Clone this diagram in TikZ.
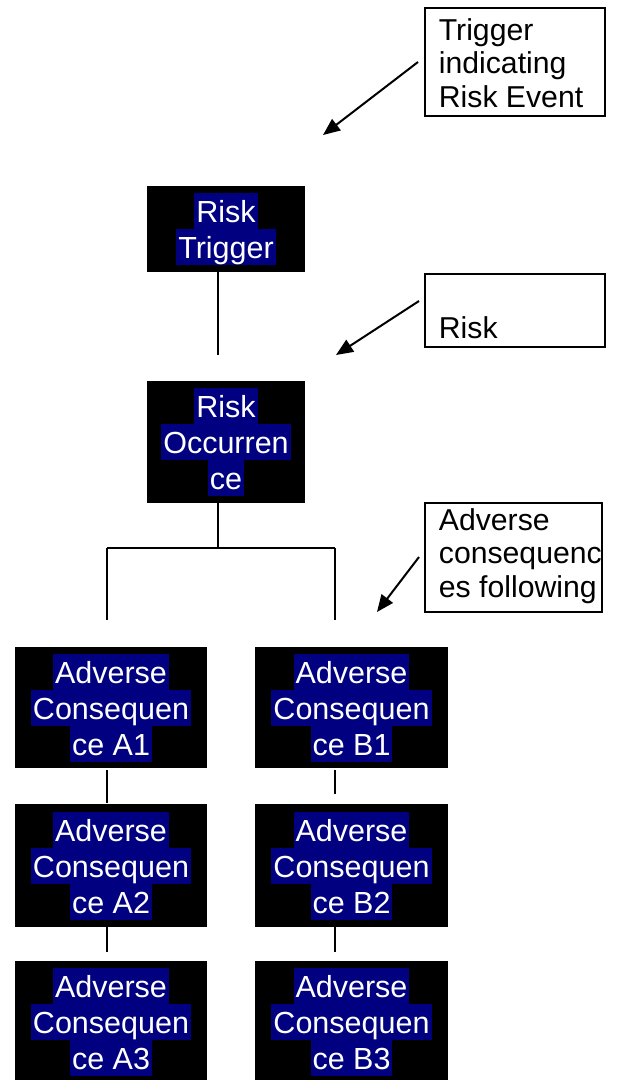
\documentclass[tikz,border=0pt]{standalone}
\usepackage{fontspec}
\setmainfont{Liberation Sans}
\usetikzlibrary{arrows.meta,calc}
\definecolor{navy}{RGB}{0,0,128}
\newcommand\hlline[1]{{\setlength\fboxsep{0pt}\colorbox{navy}{\hspace{2pt}\rule[-6.5pt]{0pt}{36pt}#1\hspace{2pt}}}}
\newcommand\annbody[3]{\parbox[c][#2][b]{#1}{\raggedright\setlength\leftskip{14pt}\fontsize{30.2}{33.5}\selectfont #3\par\vspace{8.5pt}}}
\tikzset{
  riskbox/.style={fill=black, inner sep=0pt, text=white, align=center,
    font={\fontsize{30.5}{36}\selectfont\lineskiplimit=-5pt\lineskip=0pt}},
  annbox/.style={draw=black, line width=1.8pt, fill=white, inner sep=0pt, anchor=north west},
  link/.style={draw=black, line width=1.3pt},
  pointer/.style={draw=black, line width=2pt, -{Triangle[length=17pt,width=14pt]}}
}
\begin{document}
\begin{tikzpicture}[x=1pt,y=-1pt]
\useasboundingbox (0,0) rectangle (617,1080);
% main boxes
\node[riskbox, minimum width=158pt, minimum height=86pt] (trig) at (226,229) {\hlline{Risk}\\\hlline{Trigger}};
\node[riskbox, minimum width=158pt, minimum height=122pt] (occ) at (226,442) {\hlline{Risk}\\\hlline{Occurren}\\\hlline{ce}};
\node[riskbox, minimum width=192pt, minimum height=121pt] (a1) at (111,707.5) {\hlline{Adverse}\\\hlline{Consequen}\\\hlline{ce A1}};
\node[riskbox, minimum width=192pt, minimum height=123pt] (a2) at (111,865.5) {\hlline{Adverse}\\\hlline{Consequen}\\\hlline{ce A2}};
\node[riskbox, minimum width=192pt, minimum height=121pt] (a3) at (111,1021.5) {\hlline{Adverse}\\\hlline{Consequen}\\\hlline{ce A3}};
\node[riskbox, minimum width=193pt, minimum height=121pt] (b1) at (351.5,707.5) {\hlline{Adverse}\\\hlline{Consequen}\\\hlline{ce B1}};
\node[riskbox, minimum width=193pt, minimum height=123pt] (b2) at (351.5,865.5) {\hlline{Adverse}\\\hlline{Consequen}\\\hlline{ce B2}};
\node[riskbox, minimum width=193pt, minimum height=121pt] (b3) at (351.5,1021.5) {\hlline{Adverse}\\\hlline{Consequen}\\\hlline{ce B3}};
% annotation boxes
\node[annbox] (ann1) at (424,7) {\annbody{180pt}{108pt}{Trigger\\indicating\\Risk Event}};
\node[annbox] (ann2) at (424,273) {\annbody{180pt}{73pt}{Risk}};
\node[annbox] (ann3) at (424,502) {\annbody{177pt}{109pt}{Adverse\\consequenc\\es following}};
% spine coordinates
\coordinate (ax) at (218,0);
\coordinate (jl) at (107,548);
\coordinate (jr) at (335,548);
% connectors
\draw[link, shorten >=26pt] (trig.south -| ax) -- (occ.north -| ax);
\draw[link] (occ.south -| ax) -- (ax |- jl);
\draw[link] (jl) -- (jr);
\draw[link, shorten >=27pt] (jl) -- (a1.north -| jl);
\draw[link, shorten >=27pt] (jr) -- (b1.north -| jr);
\draw[link, shorten <=2pt, shorten >=1pt] (a1.south -| jl) -- (a2.north -| jl);
\draw[link, shorten <=2pt, shorten >=10pt] (b1.south -| jr) -- (b2.north -| jr);
\draw[link, shorten >=9pt] (a2.south -| jl) -- (a3.north -| jl);
\draw[link, shorten >=9pt] (b2.south -| jr) -- (b3.north -| jr);
% pointers
\coordinate (t1) at (418,62);  \coordinate (h1) at (323,135);
\coordinate (t2) at (419,301); \coordinate (h2) at (336,355);
\coordinate (t3) at (419,557); \coordinate (h3) at (377,612);
\draw[pointer] (t1) -- (h1);
\draw[pointer] (t2) -- (h2);
\draw[pointer] (t3) -- (h3);
\end{tikzpicture}
\end{document}
